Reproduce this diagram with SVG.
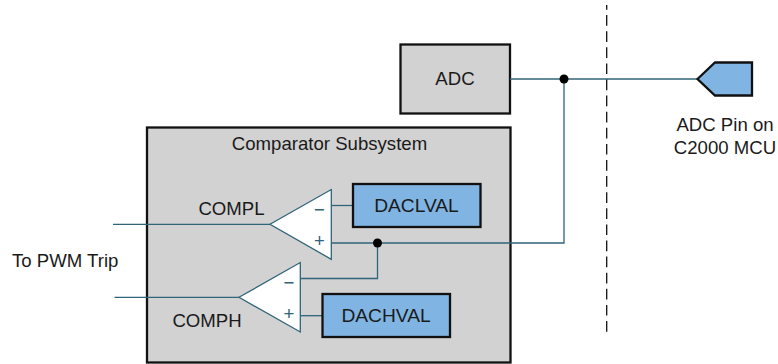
<svg xmlns="http://www.w3.org/2000/svg" width="778" height="364" viewBox="0 0 778 364">
<style>
text{font-family:"Liberation Sans",Arial,sans-serif;font-size:18.6px;fill:#1a1a1a}
.m{text-anchor:middle}
.box{fill:#d2d2d2;stroke:#111;stroke-width:2.300}
.blue{fill:#80b4e3;stroke:#111;stroke-width:2.300}
.w{fill:none;stroke:#2f6479;stroke-width:1.300}
.amp{fill:#fff;stroke:#2f6479;stroke-width:1.300}
.s{fill:#2f6479;text-anchor:middle}
.d{font-size:19.200px}
</style>
<g id="comparator-subsystem"><rect class="box" x="147" y="127.500" width="363.500" height="235"/><text class="m" x="329.500" y="150">Comparator Subsystem</text></g>
<g id="adc"><rect class="box" x="400.500" y="44.500" width="109.500" height="69"/><text class="m" x="455" y="85">ADC</text></g>
<g id="connectors">
<path class="w" d="M510 79H698"/>
<path class="w" d="M564 79V243H331"/>
<path class="w" d="M377.500 243V278.500H300"/>
<path class="w" d="M113 224.300H270"/>
<path class="w" d="M114.500 297.300H239"/>
<path class="w" d="M331 205.500H353"/>
<path class="w" d="M300 315.700H322"/>
<path d="M606.700 331.700V5" fill="none" stroke="#111" stroke-width="1.300" stroke-dasharray="10.700 5.400"/>
<circle cx="564" cy="79" r="4.500" fill="#000"/>
<circle cx="377.500" cy="243" r="4.500" fill="#000"/>
</g>
<g id="compl"><path class="amp" d="M270 224.300L331.300 189.500V259.300Z"/><text class="s" x="319.500" y="216">−</text><text class="s" x="319.500" y="246.500">+</text><text class="m" x="231.500" y="215">COMPL</text></g>
<g id="comph"><path class="amp" d="M239 297.300L300.300 262.500V332Z"/><text class="s" x="289" y="289">−</text><text class="s" x="289" y="320">+</text><text class="m" x="207" y="327">COMPH</text></g>
<g id="daclval"><rect class="blue" x="353" y="184" width="127.500" height="43"/><text class="m d" x="416.500" y="212">DACLVAL</text></g>
<g id="dachval"><rect class="blue" x="322.500" y="294" width="127.500" height="43"/><text class="m d" x="386" y="322">DACHVAL</text></g>
<g id="adc-pin"><path class="blue" d="M697.500 79L715 62.500H752V95.500H715Z"/><text class="m" x="725" y="131">ADC Pin on</text><text class="m" x="725" y="154">C2000 MCU</text></g>
<g id="pwm-trip"><text x="12" y="266.500">To PWM Trip</text></g>
</svg>
